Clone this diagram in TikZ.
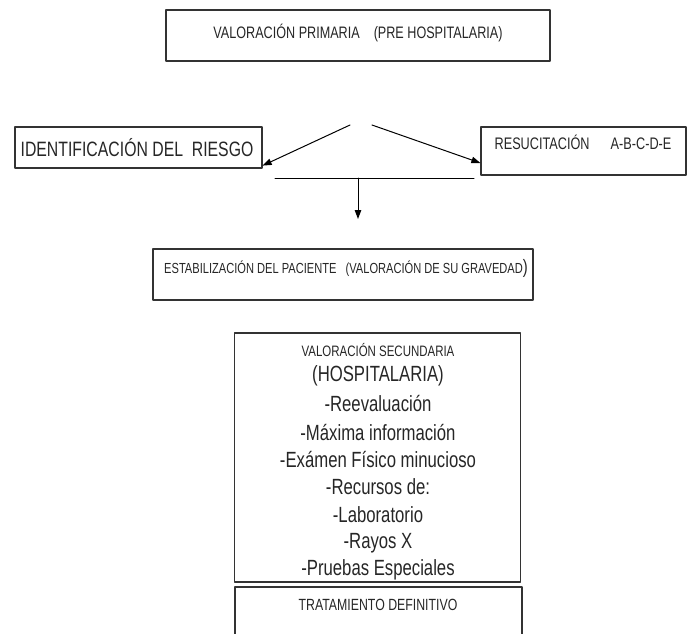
\documentclass[tikz,border=0pt]{standalone}
\usepackage{fontspec}
\setmainfont{Liberation Sans}[FakeStretch=0.76]
\usepackage{tikz}
\usetikzlibrary{arrows.meta}

\begin{document}
\begin{tikzpicture}[line cap=round,line join=round,>={Triangle[length=9pt,width=6.5pt]},x=1pt,y=-1pt,
    box/.style={draw=black!80, line width=1.2pt, inner sep=0pt},
    txt/.style={inner sep=0pt, text=black!85, font=\fontsize{16.2}{18}\selectfont},
    big/.style={txt, font=\fontsize{22}{25}\selectfont}]
    \useasboundingbox (0,0) rectangle (689,633);

    % boxes
    \node [box, minimum width=384pt, minimum height=51pt] (prim) at (358,35.5) {};
    \node [box, minimum width=247pt, minimum height=41pt] (ident) at (138.5,147.5) {};
    \node [box, minimum width=205pt, minimum height=48pt] (resus) at (583.5,151) {};
    \node [box, minimum width=380pt, minimum height=51pt] (stab) at (343,274.5) {};
    \node [box, minimum width=286pt, minimum height=249pt] (sec) at (377.5,457.5) {};
    \node [box, minimum width=287pt, minimum height=80pt] (treat) at (378.5,627) {};

    % texts
    \node [txt, font=\fontsize{16.6}{18}\selectfont] (primt) at (358,33) {VALORACIÓN PRIMARIA\ \ \ \ (PRE HOSPITALARIA)};
    \node [txt, font=\fontsize{20.8}{23}\selectfont] (identt) at (137,148) {IDENTIFICACIÓN DEL\ \ RIESGO};
    \node [txt, font=\fontsize{16.7}{18}\selectfont] (resust) at (583,142) {RESUCITACIÓN\ \ \ \ \ \ A-B-C-D-E};
    \node [txt, anchor=west, font=\fontsize{14.6}{17}\selectfont] (stabt) at (164,268) {ESTABILIZACIÓN DEL PACIENTE\ \ \ (VALORACIÓN DE SU GRAVEDAD{\fontsize{19.4}{21}\selectfont)}};
    \node [txt, font=\fontsize{15.1}{17}\selectfont] (sect) at (378,350) {VALORACIÓN SECUNDARIA};
    \node [big] (l1) at (378,376) {(HOSPITALARIA)};
    \node [big] (l2) at (378,404) {-Reevaluación};
    \node [big] (l3) at (378,432) {-Máxima información};
    \node [big] (l4) at (378,459) {-Exámen Físico minucioso};
    \node [big] (l5) at (378,487) {-Recursos de:};
    \node [big] (l6) at (378,515) {-Laboratorio};
    \node [big] (l7) at (378,543) {-Rayos X};
    \node [big] (l8) at (378,570) {-Pruebas Especiales};
    \node [txt] (treatt) at (378,605) {TRATAMIENTO DEFINITIVO};

    % connectors
    \coordinate (sl) at (350,125);
    \coordinate (sr) at (372,125);
    \coordinate (bl) at (275,178);
    \coordinate (br) at (474,178);
    \coordinate (bm) at (358,178);
    \coordinate (dn) at (358,219);

    \draw [->, line width=1pt] (sl) -- ([yshift=3pt]ident.south east);
    \draw [->, line width=1pt] (sr) -- ([yshift=-12pt]resus.west);
    \draw [line width=1pt] (bl) -- (br);
    \draw [->, line width=1pt] (bm) -- (dn);
\end{tikzpicture}
\end{document}
